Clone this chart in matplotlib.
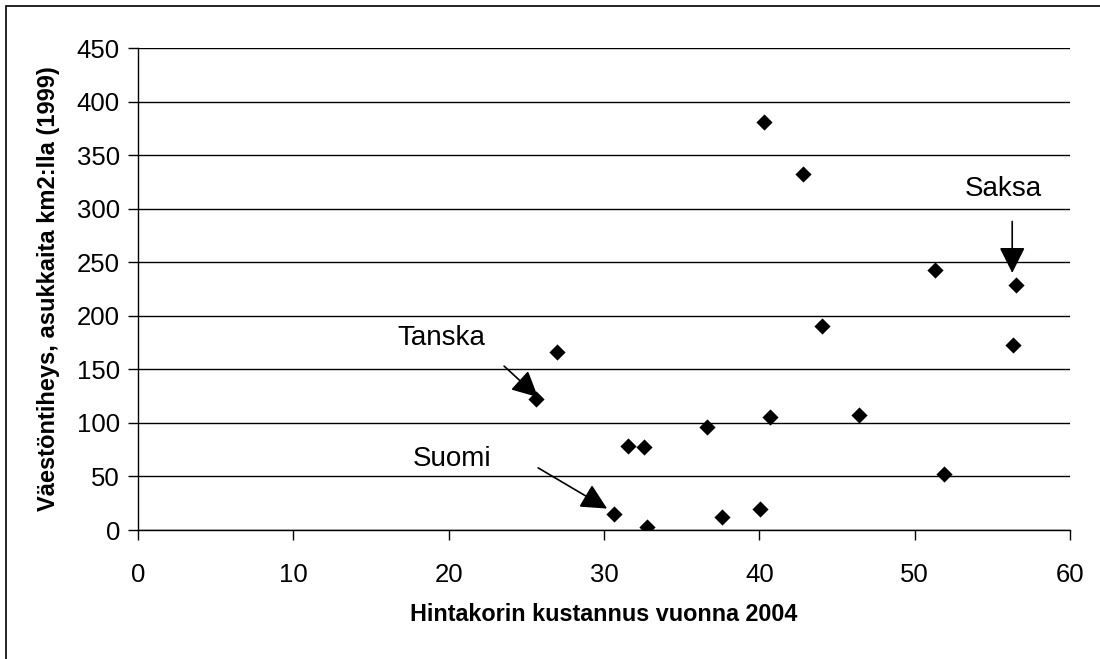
import matplotlib
matplotlib.use("Agg")
import matplotlib.pyplot as plt
from matplotlib.patches import Rectangle

plt.rcParams['font.family'] = ['Liberation Sans', 'DejaVu Sans']

# Data: basket cost 2004 (x) vs population density 1999 (y)
hinta = [25.6, 27.0, 31.55, 32.6, 36.6, 30.65, 32.8, 37.6, 40.05, 40.7,
         44.05, 46.4, 51.9, 56.3, 40.3, 42.8, 51.3, 56.5]
tiheys = [122, 166, 78.5, 77.5, 96, 15, 3, 12, 20, 105.5,
          190, 107.5, 52, 173, 381, 332, 243, 229]

x_ticks = [0, 10, 20, 30, 40, 50, 60]
y_ticks = [0, 50, 100, 150, 200, 250, 300, 350, 400, 450]

# annotations: label, arrow tip (x, y), text position (x, y), arrow start (x, y)
notes_label = ["Tanska", "Suomi", "Saksa"]
notes_point = [(25.75, 124), (30.2, 20), (56.28, 240)]
notes_text = [(19.5, 179), (20.2, 66), (55.7, 318)]
notes_start = [(23.57, 153), (25.76, 58), (56.28, 288)]

W, H = 1100, 659
fig = plt.figure(figsize=(W / 100, H / 100), dpi=100)
ax = fig.add_axes([138 / W, 1 - 530 / H, (1070 - 138) / W, (530 - 48) / H])

ax.scatter(hinta, tiheys, marker='D', s=68, color='black', zorder=3, linewidths=0)

ax.set_xlim(0, 60)
ax.set_ylim(0, 450)
ax.set_xticks(x_ticks)
ax.set_yticks(y_ticks)
ax.tick_params(axis='both', labelsize=18.5, color='black', length=7, width=1)
ax.tick_params(axis='x', direction='out', pad=17)
ax.tick_params(axis='y', direction='out', pad=6)
ax.yaxis.grid(True, color='black', linewidth=1)
ax.set_axisbelow(True)
for s in ['top', 'right']:
    ax.spines[s].set_visible(False)
ax.spines['left'].set_linewidth(1)
ax.spines['bottom'].set_linewidth(1)

ax.set_xlabel("Hintakorin kustannus vuonna 2004", fontsize=16.8, fontweight='bold', labelpad=11)
ax.set_ylabel("Väestöntiheys, asukkaita km2:lla (1999)", fontsize=17, fontweight='bold', labelpad=12)

for lab, pt, tp, st in zip(notes_label, notes_point, notes_text, notes_start):
    ax.text(tp[0], tp[1], lab, fontsize=20, ha='center', va='center')
    ax.annotate("", xy=pt, xytext=st,
                arrowprops=dict(arrowstyle="-|>,head_length=1.0,head_width=0.5",
                                mutation_scale=16, color='black', lw=1.2,
                                shrinkA=0, shrinkB=0))

fig.patches.append(Rectangle((6 / W, -0.1), 1.2, 1 - 6 / H + 0.1, transform=fig.transFigure,
                             fill=False, edgecolor='black', linewidth=1.2))

fig.savefig("out.png", dpi=100)
